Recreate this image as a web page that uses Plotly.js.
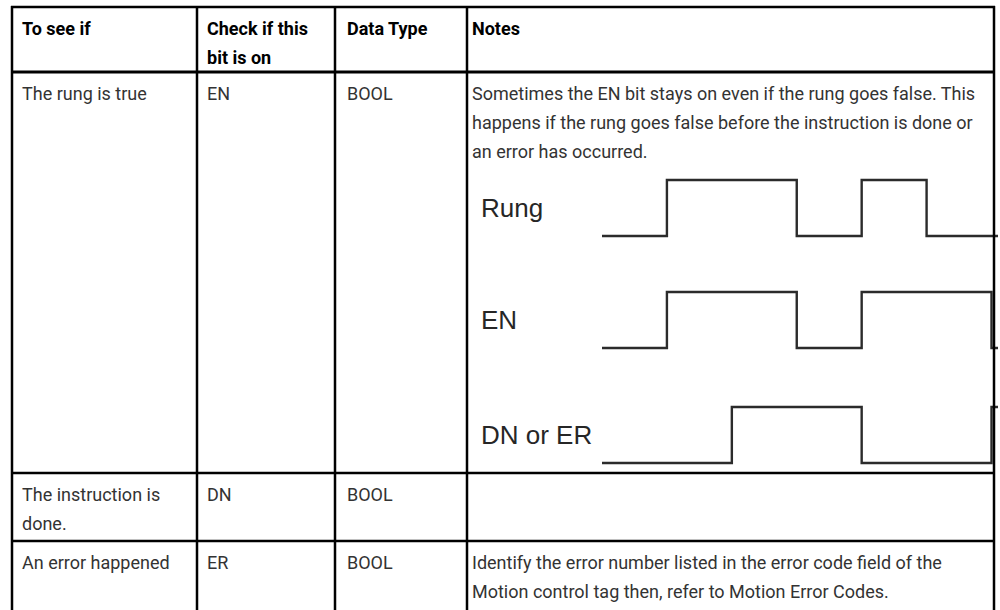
<!DOCTYPE html>
<html><head><meta charset="utf-8">
<script src="https://cdn.plot.ly/plotly-3.0.1.min.js"></script>
<style>html,body{margin:0;padding:0;background:#fff}#chart{width:1000px;height:610px}</style>
</head><body><div id="chart"></div>
<script>
// ---- table content ----
const headers = [["To see if"], ["Check if this", "bit is on"], ["Data Type"], ["Notes"]];
const toSeeIf = [["The rung is true"], ["The instruction is", "done."], ["An error happened"]];
const checkBit = [["EN"], ["DN"], ["ER"]];
const dataType = [["BOOL"], ["BOOL"], ["BOOL"]];
const notes = [
  ["Sometimes the EN bit stays on even if the rung goes false. This",
   "happens if the rung goes false before the instruction is done or",
   "an error has occurred."],
  [],
  ["Identify the error number listed in the error code field of the",
   "Motion control tag then, refer to Motion Error Codes."]
];

// ---- timing diagram data (time units, level 0/1) ----
const signalNames = ["Rung", "EN", "DN or ER"];
const rungTime = [0, 2, 6, 8, 10, 12.2];
const rungLevel = [0, 1, 0, 1, 0, 0];
const enTime = [0, 2, 6, 8, 12, 12.2];
const enLevel = [0, 1, 0, 1, 0, 0];
const dnTime = [0, 4, 8, 12, 12.2];
const dnLevel = [0, 1, 0, 1, 1];

// ---- layout geometry ----
const W = 1000, H = 610;
const colX = [12, 197, 335, 467, 994];
const colPad = [8, 8, 10, 3];
const rowY = [7, 72, 473, 541];
const firstLine = 21, lineStep = 29;

const bodyFont = {family: "Roboto, 'Open Sans', sans-serif", size: 18, color: "#333333"};
const headFont = {family: "Roboto, 'Open Sans', sans-serif", size: 18, color: "#000000", weight: 700};
const sigFont = {family: "'Liberation Sans Narrow', 'Liberation Sans', Arial, sans-serif", size: 26, color: "#262626"};

const annotations = [];
function addCell(lines, col, row, font) {
  lines.forEach((t, i) => {
    annotations.push({
      xref: "x", yref: "y", x: colX[col] + colPad[col], y: rowY[row] + firstLine + i * lineStep,
      text: t, showarrow: false, xanchor: "left", yanchor: "middle", font: font
    });
  });
}
headers.forEach((h, c) => addCell(h, c, 0, headFont));
for (let r = 0; r < 3; r++) {
  addCell(toSeeIf[r], 0, r + 1, bodyFont);
  addCell(checkBit[r], 1, r + 1, bodyFont);
  addCell(dataType[r], 2, r + 1, bodyFont);
  addCell(notes[r], 3, r + 1, bodyFont);
}

const shapes = [];
const lineCol = "#000000";
// horizontal lines
[[rowY[0], 2.5], [rowY[1], 3], [rowY[2], 2.5], [rowY[3], 2.5]].forEach(([y, w]) => {
  shapes.push({type: "line", xref: "x", yref: "y", x0: colX[0] - 1, x1: colX[4] + 1, y0: y, y1: y,
               line: {color: lineCol, width: w}});
});
// vertical lines
colX.forEach(x => {
  shapes.push({type: "line", xref: "x", yref: "y", x0: x, x1: x, y0: rowY[0] - 1, y1: H + 2,
               line: {color: lineCol, width: 2.5}});
});

// signal axes: pixel rows of low/high levels
const sigRows = [[236, 180], [348, 292], [463, 407]];
const yAxes = {};
const yNames = ["y2", "y3", "y4"];
sigRows.forEach(([lo, hi], i) => {
  const ppu = lo - hi;
  const pad = 0.25;
  const bottomPx = lo + pad * ppu, topPx = hi - pad * ppu;
  yAxes["yaxis" + (i + 2)] = {domain: [1 - bottomPx / H, 1 - topPx / H], range: [-pad, 1 + pad],
    anchor: "x2", visible: false, fixedrange: true};
});

const sigColor = "#2b2b2b";
const traces = [[rungTime, rungLevel], [enTime, enLevel], [dnTime, dnLevel]].map((d, i) => ({
  type: "scatter", mode: "lines", x: d[0], y: d[1], xaxis: "x2", yaxis: yNames[i],
  line: {shape: "hv", color: sigColor, width: 2.4}, hoverinfo: "skip", showlegend: false
}));

signalNames.forEach((n, i) => {
  annotations.push({xref: "x", yref: yNames[i], x: 479, y: 0.5, text: n, showarrow: false,
    xanchor: "left", yanchor: "middle", font: sigFont});
});

const layout = Object.assign({
  width: W, height: H, margin: {l: 0, r: 0, t: 0, b: 0},
  paper_bgcolor: "#ffffff", plot_bgcolor: "rgba(0,0,0,0)",
  xaxis: {range: [0, W], domain: [0, 1], visible: false, fixedrange: true, anchor: "y"},
  yaxis: {range: [H, 0], domain: [0, 1], visible: false, fixedrange: true, anchor: "x"},
  xaxis2: {range: [0, 12.2], domain: [602 / W, 998 / W], visible: false, fixedrange: true, anchor: "y2"},
  shapes: shapes, annotations: annotations, showlegend: false, hovermode: false
}, yAxes);

Plotly.newPlot("chart", traces, layout, {displayModeBar: false, staticPlot: true});
</script>
</body></html>
